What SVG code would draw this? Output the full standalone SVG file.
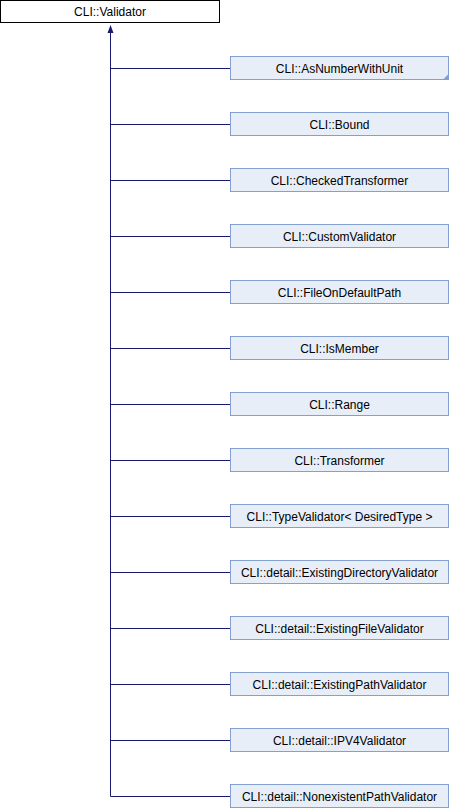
<svg xmlns="http://www.w3.org/2000/svg" width="450" height="808" viewBox="0 0 450 808">
<style>
.n rect{fill:#E8EEF7;stroke:#84A0D0;stroke-width:1}
.root rect{fill:#FFFFFF;stroke:#000000;stroke-width:1}
text{font-family:"Liberation Sans",Arial,sans-serif;font-size:12px;fill:#000;text-anchor:middle}
.e{stroke:#191970;stroke-width:1;fill:none}
.ah{fill:#191970}
</style>
<g id="connectors">
<path class="e" d="M110.5,796.5 V26"/>
<path class="ah" d="M110.5,25 L107.5,33 L113.5,33 Z"/>
<path class="e" d="M110.5,68.5 H230 M110.5,124.5 H230 M110.5,180.5 H230 M110.5,236.5 H230 M110.5,292.5 H230 M110.5,348.5 H230 M110.5,404.5 H230 M110.5,460.5 H230 M110.5,516.5 H230 M110.5,572.5 H230 M110.5,628.5 H230 M110.5,684.5 H230 M110.5,740.5 H230 M110.5,796.5 H230"/>
</g>
<g id="validator" class="root"><rect x="0.5" y="0.5" width="219" height="22"/><text x="110" y="16">CLI::Validator</text></g>
<g id="asnumberwithunit" class="n"><rect x="230.5" y="56.5" width="218" height="23"/><polygon points="448.5,74 448.5,79.5 443,79.5" fill="#84A0D0"/><text x="339.5" y="72.5">CLI::AsNumberWithUnit</text></g>
<g id="bound" class="n"><rect x="230.5" y="112.5" width="218" height="23"/><text x="339.5" y="128.5">CLI::Bound</text></g>
<g id="checkedtransformer" class="n"><rect x="230.5" y="168.5" width="218" height="23"/><text x="339.5" y="184.5">CLI::CheckedTransformer</text></g>
<g id="customvalidator" class="n"><rect x="230.5" y="224.5" width="218" height="23"/><text x="339.5" y="240.5">CLI::CustomValidator</text></g>
<g id="fileondefaultpath" class="n"><rect x="230.5" y="280.5" width="218" height="23"/><text x="339.5" y="296.5">CLI::FileOnDefaultPath</text></g>
<g id="ismember" class="n"><rect x="230.5" y="336.5" width="218" height="23"/><text x="339.5" y="352.5">CLI::IsMember</text></g>
<g id="range" class="n"><rect x="230.5" y="392.5" width="218" height="23"/><text x="339.5" y="408.5">CLI::Range</text></g>
<g id="transformer" class="n"><rect x="230.5" y="448.5" width="218" height="23"/><text x="339.5" y="464.5">CLI::Transformer</text></g>
<g id="typevalidator" class="n"><rect x="230.5" y="504.5" width="218" height="23"/><text x="339.5" y="520.5">CLI::TypeValidator&lt; DesiredType &gt;</text></g>
<g id="existingdirectoryvalidator" class="n"><rect x="230.5" y="560.5" width="218" height="23"/><text x="339.5" y="576.5">CLI::detail::ExistingDirectoryValidator</text></g>
<g id="existingfilevalidator" class="n"><rect x="230.5" y="616.5" width="218" height="23"/><text x="339.5" y="632.5">CLI::detail::ExistingFileValidator</text></g>
<g id="existingpathvalidator" class="n"><rect x="230.5" y="672.5" width="218" height="23"/><text x="339.5" y="688.5">CLI::detail::ExistingPathValidator</text></g>
<g id="ipv4validator" class="n"><rect x="230.5" y="728.5" width="218" height="23"/><text x="339.5" y="744.5">CLI::detail::IPV4Validator</text></g>
<g id="nonexistentpathvalidator" class="n"><rect x="230.5" y="784.5" width="218" height="23"/><text x="339.5" y="800.5">CLI::detail::NonexistentPathValidator</text></g>
</svg>
